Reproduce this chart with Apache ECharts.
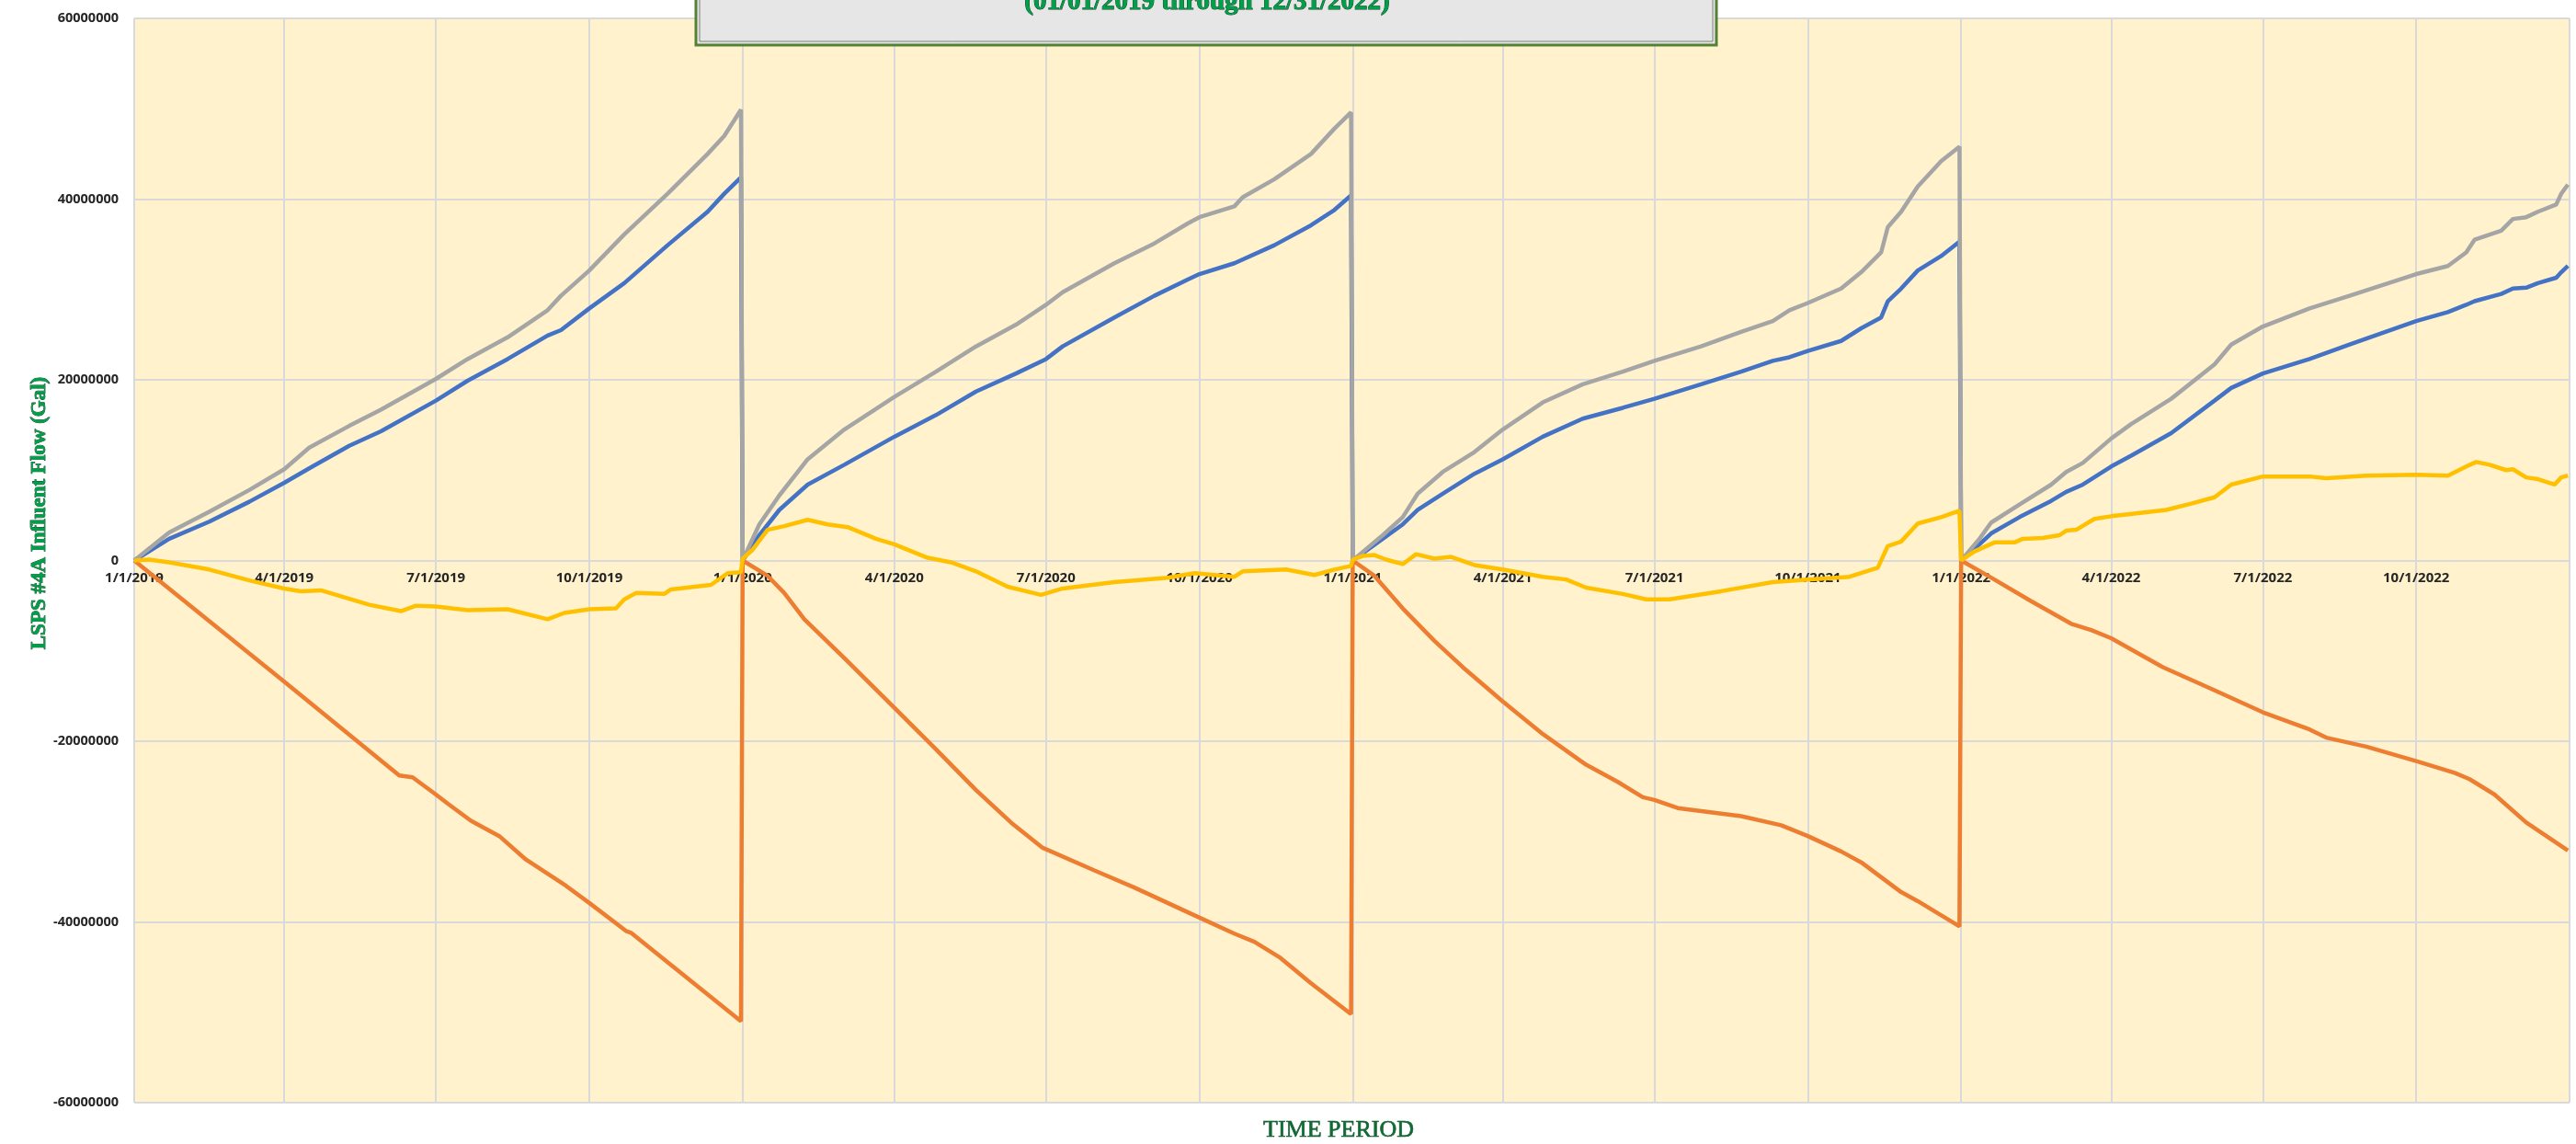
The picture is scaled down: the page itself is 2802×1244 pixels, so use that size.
<!DOCTYPE html>
<html>
<head>
<meta charset="utf-8">
<script src="https://cdn.jsdelivr.net/npm/echarts@6/dist/echarts.min.js"></script>
<style>
  html, body { margin: 0; padding: 0; background: #ffffff; }
  #chart { width: 2802px; height: 1244px; }
</style>
</head>
<body>
<div id="chart"></div>
<script>
// ---- Values (in millions of gallons) ----
const blueSeries = [
  ['2019-01-01',0],['2019-01-22',2.4],['2019-02-15',4.3],['2019-03-11',6.5],['2019-04-01',8.6],
  ['2019-04-16',10.2],['2019-05-10',12.7],['2019-05-29',14.3],['2019-07-01',17.7],['2019-07-20',19.9],
  ['2019-08-13',22.3],['2019-09-06',24.9],['2019-09-14',25.5],['2019-10-01',27.9],['2019-10-22',30.7],
  ['2019-11-17',34.9],['2019-12-11',38.6],['2019-12-21',40.6],['2019-12-31',42.4],
  ['2020-01-01',0],['2020-01-11',2.8],['2020-01-23',5.6],['2020-02-09',8.4],['2020-03-02',10.6],
  ['2020-04-01',13.7],['2020-04-26',16.1],['2020-05-20',18.7],['2020-06-13',20.7],['2020-07-01',22.3],
  ['2020-07-11',23.7],['2020-08-11',26.9],['2020-09-04',29.3],['2020-09-24',31.1],['2020-10-01',31.7],
  ['2020-10-22',32.9],['2020-11-15',34.9],['2020-12-07',37.1],['2020-12-21',38.8],['2020-12-31',40.4],
  ['2021-01-01',0],['2021-01-19',2.4],['2021-01-31',4.0],['2021-02-09',5.6],['2021-02-24',7.4],
  ['2021-03-15',9.6],['2021-04-01',11.2],['2021-04-25',13.7],['2021-05-19',15.7],['2021-06-12',16.9],
  ['2021-07-01',17.9],['2021-07-29',19.5],['2021-08-22',20.9],['2021-09-10',22.1],['2021-09-20',22.5],
  ['2021-10-01',23.2],['2021-10-21',24.3],['2021-11-02',25.7],['2021-11-14',26.9],['2021-11-18',28.7],
  ['2021-11-26',30.1],['2021-12-06',32.1],['2021-12-20',33.7],['2021-12-31',35.3],
  ['2022-01-01',0],['2022-01-12',1.8],['2022-01-19',3.0],['2022-02-05',4.8],['2022-02-24',6.6],
  ['2022-03-05',7.6],['2022-03-15',8.4],['2022-04-01',10.4],['2022-04-13',11.6],['2022-05-07',14.1],
  ['2022-06-02',17.7],['2022-06-12',19.1],['2022-07-01',20.7],['2022-07-29',22.3],['2022-08-22',23.9],
  ['2022-10-01',26.5],['2022-10-20',27.5],['2022-10-31',28.3],['2022-11-05',28.7],['2022-11-21',29.5],
  ['2022-11-28',30.1],['2022-12-06',30.2],['2022-12-13',30.7],['2022-12-24',31.3],['2022-12-27',31.9],
  ['2022-12-31',32.6]
];

const orangeSeries = [
  ['2019-01-01',0],['2019-04-01',-13.4],['2019-06-09',-23.8],['2019-06-17',-24.0],['2019-07-01',-25.9],
  ['2019-07-08',-26.9],['2019-07-22',-28.8],['2019-08-08',-30.5],['2019-08-24',-33.1],['2019-09-17',-36.0],
  ['2019-10-01',-37.9],['2019-10-23',-41.0],['2019-10-26',-41.2],['2019-12-31',-51.0],
  ['2020-01-01',0],['2020-01-16',-1.7],['2020-01-26',-3.6],['2020-02-07',-6.5],['2020-03-02',-10.8],
  ['2020-04-01',-16.3],['2020-04-26',-20.9],['2020-05-20',-25.4],['2020-06-10',-29.0],['2020-06-29',-31.8],
  ['2020-07-30',-34.3],['2020-08-23',-36.2],['2020-09-26',-39.1],['2020-10-22',-41.3],['2020-11-03',-42.2],
  ['2020-11-18',-43.9],['2020-12-07',-46.8],['2020-12-31',-50.2],
  ['2021-01-01',0],['2021-01-14',-1.7],['2021-01-31',-5.3],['2021-02-19',-8.9],['2021-03-08',-11.8],
  ['2021-04-01',-15.6],['2021-04-25',-19.2],['2021-05-21',-22.6],['2021-06-09',-24.5],['2021-06-24',-26.2],
  ['2021-07-01',-26.5],['2021-07-15',-27.4],['2021-08-22',-28.3],['2021-09-15',-29.3],['2021-10-01',-30.5],
  ['2021-10-21',-32.2],['2021-11-02',-33.4],['2021-11-26',-36.7],['2021-12-06',-37.7],['2021-12-31',-40.5],
  ['2022-01-01',0],['2022-01-19',-1.9],['2022-02-12',-4.5],['2022-03-08',-7.0],['2022-03-20',-7.7],
  ['2022-04-01',-8.6],['2022-05-02',-11.8],['2022-05-31',-14.2],['2022-07-01',-16.8],['2022-07-29',-18.7],
  ['2022-08-08',-19.6],['2022-09-01',-20.6],['2022-10-01',-22.2],['2022-10-24',-23.5],['2022-11-02',-24.2],
  ['2022-11-17',-25.9],['2022-12-06',-29.0],['2022-12-31',-32.1]
];

const graySeries = [
  ['2019-01-01',0],['2019-01-22',3.1],['2019-02-15',5.4],['2019-03-11',7.8],['2019-04-01',10.1],
  ['2019-04-16',12.5],['2019-05-10',14.9],['2019-05-29',16.7],['2019-07-01',20.1],['2019-07-20',22.3],
  ['2019-08-13',24.7],['2019-09-06',27.7],['2019-09-14',29.3],['2019-10-01',32.1],['2019-10-22',36.1],
  ['2019-11-17',40.6],['2019-12-11',45.0],['2019-12-21',47.0],['2019-12-31',49.9],
  ['2020-01-01',0],['2020-01-11',4.0],['2020-01-23',7.2],['2020-02-09',11.2],['2020-03-02',14.5],
  ['2020-04-01',18.1],['2020-04-26',20.9],['2020-05-20',23.7],['2020-06-13',26.1],['2020-07-01',28.3],
  ['2020-07-11',29.7],['2020-08-11',32.9],['2020-09-04',35.1],['2020-09-24',37.3],['2020-10-01',38.0],
  ['2020-10-22',39.2],['2020-10-27',40.2],['2020-11-15',42.2],['2020-12-07',45.0],['2020-12-21',47.8],
  ['2020-12-31',49.6],
  ['2021-01-01',0],['2021-01-19',2.8],['2021-01-31',4.8],['2021-02-09',7.4],['2021-02-24',9.8],
  ['2021-03-15',12.0],['2021-04-01',14.5],['2021-04-25',17.5],['2021-05-19',19.5],['2021-06-12',20.9],
  ['2021-07-01',22.1],['2021-07-29',23.7],['2021-08-22',25.3],['2021-09-10',26.5],['2021-09-20',27.7],
  ['2021-10-01',28.5],['2021-10-21',30.1],['2021-11-02',31.9],['2021-11-14',34.1],['2021-11-18',36.9],
  ['2021-11-26',38.6],['2021-12-06',41.4],['2021-12-20',44.2],['2021-12-31',45.8],
  ['2022-01-01',0],['2022-01-12',2.4],['2022-01-19',4.2],['2022-02-05',6.2],['2022-02-24',8.4],
  ['2022-03-05',9.8],['2022-03-15',10.8],['2022-04-01',13.5],['2022-04-13',15.1],['2022-05-07',17.9],
  ['2022-06-02',21.7],['2022-06-12',23.9],['2022-07-01',25.9],['2022-07-29',27.9],['2022-08-22',29.3],
  ['2022-10-01',31.7],['2022-10-20',32.6],['2022-10-31',34.1],['2022-11-05',35.5],['2022-11-21',36.5],
  ['2022-11-28',37.8],['2022-12-06',38.0],['2022-12-13',38.6],['2022-12-24',39.4],['2022-12-27',40.6],
  ['2022-12-31',41.6]
];

const yellowSeries = [
  ['2019-01-01',0],['2019-01-10',0.1],['2019-01-22',-0.2],['2019-02-15',-1.0],['2019-03-11',-2.2],
  ['2019-04-01',-3.1],['2019-04-11',-3.4],['2019-04-23',-3.3],['2019-05-22',-4.9],['2019-06-10',-5.6],
  ['2019-06-19',-5.0],['2019-07-01',-5.1],['2019-07-20',-5.5],['2019-08-13',-5.4],['2019-09-06',-6.5],
  ['2019-09-16',-5.8],['2019-10-01',-5.4],['2019-10-17',-5.3],['2019-10-22',-4.3],['2019-10-29',-3.6],
  ['2019-11-15',-3.7],['2019-11-19',-3.2],['2019-12-13',-2.7],['2019-12-23',-1.4],['2019-12-31',-1.3],
  ['2020-01-01',0.2],['2020-01-07',1.2],['2020-01-16',3.4],['2020-01-26',3.8],['2020-02-09',4.5],
  ['2020-02-21',4.0],['2020-03-04',3.7],['2020-03-21',2.4],['2020-04-01',1.8],['2020-04-21',0.3],
  ['2020-05-05',-0.2],['2020-05-20',-1.2],['2020-06-08',-2.9],['2020-06-28',-3.8],['2020-07-11',-3.1],
  ['2020-08-11',-2.4],['2020-09-12',-1.9],['2020-09-28',-1.4],['2020-10-22',-1.8],['2020-10-27',-1.2],
  ['2020-11-22',-1.0],['2020-12-09',-1.6],['2020-12-21',-1.0],['2020-12-31',-0.6],
  ['2021-01-01',0.1],['2021-01-07',0.5],['2021-01-14',0.6],['2021-01-21',0.1],['2021-01-31',-0.4],
  ['2021-02-08',0.7],['2021-02-19',0.2],['2021-03-01',0.4],['2021-03-15',-0.5],['2021-04-01',-1.0],
  ['2021-04-25',-1.8],['2021-05-09',-2.1],['2021-05-21',-3.0],['2021-06-12',-3.7],['2021-06-26',-4.3],
  ['2021-07-10',-4.3],['2021-08-10',-3.4],['2021-09-10',-2.4],['2021-10-01',-2.1],['2021-10-26',-1.8],
  ['2021-11-12',-0.8],['2021-11-18',1.6],['2021-11-26',2.1],['2021-12-06',4.1],['2021-12-20',4.8],
  ['2021-12-31',5.5],
  ['2022-01-01',0],['2022-01-09',1.0],['2022-01-21',2.0],['2022-02-02',2.0],['2022-02-07',2.4],
  ['2022-02-19',2.5],['2022-03-01',2.8],['2022-03-05',3.3],['2022-03-11',3.4],['2022-03-22',4.6],
  ['2022-04-01',4.9],['2022-04-10',5.1],['2022-05-04',5.6],['2022-05-19',6.3],['2022-06-02',7.0],
  ['2022-06-12',8.4],['2022-07-01',9.3],['2022-07-29',9.3],['2022-08-08',9.1],['2022-09-01',9.4],
  ['2022-10-01',9.5],['2022-10-20',9.4],['2022-10-31',10.4],['2022-11-06',10.9],['2022-11-14',10.6],
  ['2022-11-24',10.0],['2022-11-28',10.1],['2022-12-06',9.2],['2022-12-13',9.0],['2022-12-23',8.4],
  ['2022-12-27',9.2],['2022-12-31',9.4]
];

// Tick positions (quarter starts) and axis texts
const quarterLabels = ['2019-01-01','2019-04-01','2019-07-01','2019-10-01',
  '2020-01-01','2020-04-01','2020-07-01','2020-10-01',
  '2021-01-01','2021-04-01','2021-07-01','2021-10-01',
  '2022-01-01','2022-04-01','2022-07-01','2022-10-01'];
const gridDates = quarterLabels.concat(['2023-01-01']);
const xMin = '2019-01-01';
const xMax = '2023-01-01';
const yTicks = [-60, -40, -20, 0, 20, 40, 60]; // millions
const titleText = '(01/01/2019 through 12/31/2022)';
const yAxisTitle = 'LSPS #4A Influent Flow (Gal)';
const xAxisTitle = 'TIME PERIOD';

// day number counted from 2019-01-01 (used as the value-axis coordinate)
const DAY = 86400000;
function toDay(s) {
  const p = s.split('-').map(Number);
  return Math.round((Date.UTC(p[0], p[1] - 1, p[2]) - Date.UTC(2019, 0, 1)) / DAY);
}
function fmtDay(v) {
  const d = new Date(Date.UTC(2019, 0, 1) + Math.round(v) * DAY);
  return (d.getUTCMonth() + 1) + '/' + d.getUTCDate() + '/' + d.getUTCFullYear();
}

const GRID_TOP = 20, GRID_BOTTOM = 45, CHART_H = 1244;
const plotH = CHART_H - GRID_TOP - GRID_BOTTOM;
// the date axis sits on the zero line (centre of the symmetric value range)
const zeroOffset = -plotH * (0 - yTicks[0]) / (yTicks[yTicks.length - 1] - yTicks[0]);

const chart = echarts.init(document.getElementById('chart'), null, { renderer: 'canvas' });

const lineCommon = { type: 'line', showSymbol: false, symbol: 'none', smooth: false, animation: false };

chart.setOption({
  animation: false,
  backgroundColor: '#ffffff',
  grid: {
    left: 146, right: 7, top: GRID_TOP, bottom: GRID_BOTTOM,
    show: true, backgroundColor: '#FFF2CC', borderWidth: 0
  },
  xAxis: {
    type: 'value',
    min: toDay(xMin),
    max: toDay(xMax),
    offset: zeroOffset,
    axisLine: { show: true, onZero: false, lineStyle: { color: '#D9D9D9', width: 2 } },
    axisTick: { show: false, customValues: gridDates.map(toDay) },
    axisLabel: {
      customValues: quarterLabels.map(toDay),
      formatter: fmtDay,
      fontFamily: 'Open Sans',
      fontWeight: 'bold',
      fontSize: 15,
      color: '#262626',
      margin: 12
    },
    splitLine: { show: true, lineStyle: { color: '#D9D9D9', width: 2 } }
  },
  yAxis: {
    type: 'value',
    min: yTicks[0],
    max: yTicks[yTicks.length - 1],
    interval: 20,
    axisLine: { show: false, onZero: false },
    axisTick: { show: false },
    axisLabel: {
      formatter: function (v) { return String(Math.round(v * 1000000)); },
      fontFamily: 'Open Sans',
      fontWeight: 'bold',
      fontSize: 14.5,
      color: '#262626',
      margin: 17
    },
    splitLine: { show: true, lineStyle: { color: '#D9D9D9', width: 2 } }
  },
  series: [
    Object.assign({}, lineCommon, { name: 'Series A', data: blueSeries.map(p => [toDay(p[0]), p[1]]),
      lineStyle: { color: '#4472C4', width: 4.5 }, itemStyle: { color: '#4472C4' }, z: 2 }),
    Object.assign({}, lineCommon, { name: 'Series B', data: orangeSeries.map(p => [toDay(p[0]), p[1]]),
      lineStyle: { color: '#ED7D31', width: 4.5 }, itemStyle: { color: '#ED7D31' }, z: 3 }),
    Object.assign({}, lineCommon, { name: 'Series C', data: graySeries.map(p => [toDay(p[0]), p[1]]),
      lineStyle: { color: '#A5A5A5', width: 4.5 }, itemStyle: { color: '#A5A5A5' }, z: 4 }),
    Object.assign({}, lineCommon, { name: 'Series D', data: yellowSeries.map(p => [toDay(p[0]), p[1]]),
      lineStyle: { color: '#FFC000', width: 4.5 }, itemStyle: { color: '#FFC000' }, z: 5 })
  ],
  graphic: [
    {
      type: 'rect', z: 100,
      shape: { x: 757, y: -60, width: 1110, height: 109 },
      style: { fill: '#E6E6E6', stroke: '#548235', lineWidth: 3 }
    },
    {
      type: 'rect', z: 101,
      shape: { x: 761, y: -60, width: 1102, height: 105 },
      style: { fill: 'none', stroke: '#7F7F7F', lineWidth: 1 }
    },
    {
      type: 'text', z: 102,
      x: 1313, y: 3,
      style: {
        text: titleText,
        font: 'bold 29px "Liberation Serif"',
        fill: '#00A04B',
        stroke: '#103d20',
        lineWidth: 1,
        align: 'center',
        verticalAlign: 'middle'
      }
    },
    {
      type: 'text', z: 102,
      x: 43, y: 558,
      rotation: Math.PI / 2,
      style: {
        text: yAxisTitle,
        font: 'bold 23px "Liberation Serif"',
        fill: '#00A04B',
        stroke: '#103d20',
        lineWidth: 0.8,
        align: 'center',
        verticalAlign: 'middle'
      }
    },
    {
      type: 'text', z: 102,
      x: 1456, y: 1229,
      style: {
        text: xAxisTitle,
        font: '26px "Liberation Serif"',
        fill: '#0E6B34',
        stroke: '#0E4a24',
        lineWidth: 0.6,
        align: 'center',
        verticalAlign: 'middle'
      }
    }
  ]
});
</script>
</body>
</html>
